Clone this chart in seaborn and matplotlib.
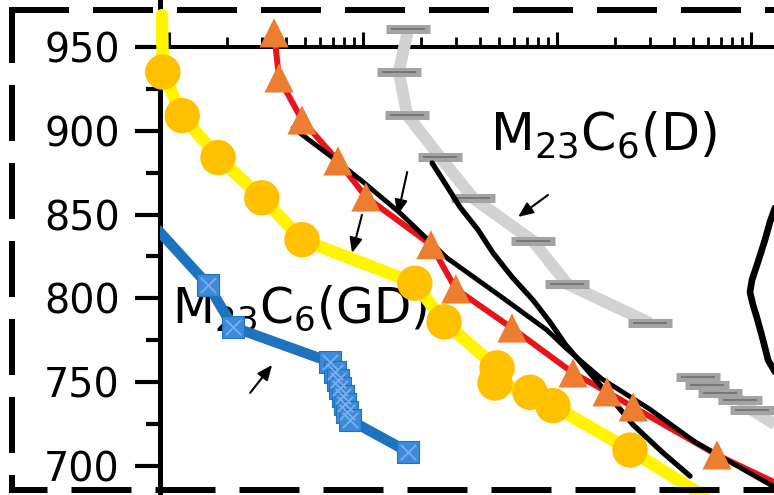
import numpy as np
import matplotlib
matplotlib.use("Agg")
import matplotlib.pyplot as plt
from matplotlib.lines import Line2D
from matplotlib.ticker import LogLocator, FixedLocator, NullFormatter
import seaborn as sns

# ---- data: time (s, log axis) vs temperature (deg C) ----
# yellow curve with orange circles (first/last entries are curve ends without a marker)
circ_time = [0.92, 0.93, 1.17, 1.79, 3.01, 4.85, 18.5, 26.2, 49.1, 47.9, 72.6, 95.3, 238, 580]
circ_temp = [969, 935, 909, 884, 860, 835, 809, 786, 758.5, 749.5, 744, 736, 709.5, 681.5]

# red curve with orange triangles (last entry is the curve end)
tri_time = [3.48, 3.69, 4.85, 7.43, 10.35, 22.4, 30.1, 58.6, 121, 181, 247, 668, 1791]
tri_temp = [958.4, 931.5, 906.4, 882.0, 860.5, 832.0, 805.6, 782.3, 755.5, 744.2, 735.2, 706.6, 683.0]

# grey curve with bar markers, upper branch
grey1_time = [17.1, 15.3, 16.9, 24.9, 36.9, 75.2, 113, 301]
grey1_temp = [960.7, 935.1, 909.4, 884.4, 859.9, 834.2, 808.6, 785.3]
# grey curve, lower branch (last entry is the curve end)
grey2_time = [533, 593, 692, 877, 1012, 1791]
grey2_temp = [753.1, 748.3, 743.6, 739.4, 733.4, 715.5]

# blue curve M23C6 (GD) with square markers (first entry is the curve start)
blue_time = [0.877, 1.59, 2.14, 6.76, 7.18, 7.43, 7.61, 7.89, 8.07, 8.28, 8.57, 17.1]
blue_temp = [840.8, 808.0, 782.9, 762.1, 756.1, 751.3, 746.5, 741.8, 737.0, 732.2, 727.4, 708.4]

# calculated curves (black)
calc_a_time = [4.36, 7.00, 10.0, 15.5, 27.1, 52.7, 88.7, 112, 170, 300, 520, 1250, 1800]
calc_a_temp = [901.7, 883.8, 869.5, 851.0, 824.1, 800.2, 781.1, 770.0, 752.0, 734.0, 714.0, 689.0, 680.0]
calc_b_time = [22.7, 26.8, 31.6, 39.2, 46.8, 58.6, 75.2, 92.0, 111, 167, 247, 348, 485]
calc_b_temp = [880.8, 867.7, 854.5, 840.8, 827.1, 812.8, 799.0, 785.9, 772.2, 748.3, 724.5, 708.4, 694.0]
calc_c_time = [1346, 1253, 1180, 1086, 1012, 988, 1024, 1074, 1153, 1225, 1330]
calc_c_temp = [855.7, 845.6, 834.8, 821.7, 811.0, 803.8, 796.1, 788.3, 775.2, 763.2, 756.1]

y_ticks = [700, 750, 800, 850, 900, 950]
y_minor = [725, 775, 825, 875, 925]

# annotation arrows: (tail time, tail temp, head time, head temp)
arrows = [
    (16.9, 875.4, 15.1, 849.8),
    (9.88, 849.8, 8.78, 827.1),
    (89.9, 861.7, 63.0, 848.6),
    (2.62, 743.6, 3.40, 760.3),
]

# ---- style ----
sns.set_theme(style="white")
plt.rcParams["font.family"] = ["DejaVu Sans"]
plt.rcParams["lines.scale_dashes"] = False
plt.rcParams["mathtext.default"] = "regular"

W, H = 774, 495
fig = plt.figure(figsize=(W / 100, H / 100), dpi=100)
ax = fig.add_axes([160 / W, 0, 614 / W, 1])
ax.set_xscale("log")
ax.set_xlim(10 ** -0.0464, 10 ** 3.1186)
ax.set_ylim(682.7, 978.0)

YELLOW = "#FFF500"
GOLD = "#FFC000"
RED = "#E8141B"
ORANGE = "#ED7D31"
GREY_LINE = "#D2D2D2"
GREY_MARK = "#A3A3A3"
BLUE = "#1E73BE"
BLUE_MARK = "#3D8ADA"

# grey curve
sns.lineplot(x=grey1_time, y=grey1_temp, sort=False, estimator=None, color=GREY_LINE,
             lw=8.6, ax=ax, zorder=3, solid_capstyle="butt")
sns.lineplot(x=grey2_time, y=grey2_temp, sort=False, estimator=None, color=GREY_LINE,
             lw=8.6, ax=ax, zorder=3, solid_capstyle="butt")
for gt, gy in ((grey1_time, grey1_temp), (grey2_time[:-1], grey2_temp[:-1])):
    sns.scatterplot(x=gt, y=gy, marker="_", s=31 ** 2, linewidths=6.5, color=GREY_MARK,
                    ax=ax, zorder=3.2, clip_on=False)
    sns.scatterplot(x=gt, y=gy, marker="_", s=25 ** 2, linewidths=1.1, color="#6A6A6A",
                    ax=ax, zorder=3.3, clip_on=False)

# M23C6 (GD) label sits beneath the curves
ax.text(1.035, 785.3, r"$\mathregular{M_{23}C_{6}(GD)}$", fontsize=35, ha="left",
        va="baseline", color="black", zorder=2.9)

# blue curve
sns.lineplot(x=blue_time, y=blue_temp, sort=False, estimator=None, color=BLUE, lw=7.5,
             ax=ax, zorder=4)
sns.scatterplot(x=blue_time[1:], y=blue_temp[1:], marker="s", s=15.5 ** 2, color=BLUE_MARK,
                edgecolor=BLUE, linewidth=0.8, ax=ax, zorder=4.2)
sns.scatterplot(x=blue_time[1:], y=blue_temp[1:], marker="x", s=11 ** 2, color="#79B0EA",
                linewidth=1.3, ax=ax, zorder=4.3)

# yellow curve with circles
sns.lineplot(x=circ_time, y=circ_temp, sort=False, estimator=None, color=YELLOW, lw=9,
             ax=ax, zorder=5, clip_on=False)
sns.scatterplot(x=circ_time[1:-1], y=circ_temp[1:-1], marker="o", s=25.5 ** 2, color=GOLD,
                edgecolor="none", ax=ax, zorder=5.2, clip_on=False)

# red curve
sns.lineplot(x=tri_time, y=tri_temp, sort=False, estimator=None, color=RED, lw=4.3,
             ax=ax, zorder=6)

# calculated black curves
for ct, cy, lw in ((calc_a_time, calc_a_temp, 3.5), (calc_b_time, calc_b_temp, 3.8),
                   (calc_c_time, calc_c_temp, 4.8)):
    sns.lineplot(x=ct, y=cy, sort=False, estimator=None, color="black", lw=lw, ax=ax,
                 zorder=6.5)

sns.scatterplot(x=tri_time[:-1], y=tri_temp[:-1], marker="^", s=21 ** 2, color=ORANGE,
                edgecolor="none", ax=ax, zorder=7, clip_on=False)

# label for the grey curve
ax.text(45.2, 888.5, r"$\mathregular{M_{23}C_{6}(D)}$", fontsize=36.5, ha="left",
        va="baseline", color="black", zorder=9)

for t0, y0, t1, y1 in arrows:
    ax.annotate("", xy=(t1, y1), xytext=(t0, y0),
                arrowprops=dict(arrowstyle="-|>,head_length=0.75,head_width=0.32",
                                mutation_scale=12, color="black", lw=1.5,
                                shrinkA=0, shrinkB=0),
                zorder=9)

# ---- axes styling ----
for side in ("right", "bottom"):
    ax.spines[side].set_visible(False)
ax.spines["left"].set_linewidth(3.6)
ax.spines["left"].set_color("black")
ax.spines["left"].set_zorder(2.5)
ax.spines["top"].set_position(("data", 950))
ax.spines["top"].set_linewidth(2.9)
ax.spines["top"].set_color("black")

ax.yaxis.set_major_locator(FixedLocator(y_ticks))
ax.yaxis.set_minor_locator(FixedLocator(y_minor))
ax.set_yticklabels([str(v) for v in y_ticks])
ax.tick_params(axis="y", which="major", left=True, length=18, width=3, pad=11,
               labelsize=28.5, direction="out", color="black", labelcolor="black")
ax.tick_params(axis="y", which="minor", left=True, length=10, width=3, direction="out",
               color="black")

ax.xaxis.set_ticks_position("top")
ax.xaxis.set_major_locator(LogLocator(base=10, numticks=12))
ax.xaxis.set_minor_locator(LogLocator(base=10, subs=np.arange(2, 10), numticks=12))
ax.xaxis.set_minor_formatter(NullFormatter())
ax.tick_params(axis="x", which="major", top=True, bottom=False, labeltop=False,
               labelbottom=False, length=11, width=2.2, direction="out", color="black")
ax.tick_params(axis="x", which="minor", top=True, bottom=False, length=7, width=2.0,
               direction="out", color="black")
ax.set_xlabel("")
ax.set_ylabel("")

# ---- dashed frame around the panel ----
px = 0.72  # points per pixel at 100 dpi


def frame_line(x0, y0, x1, y1, on, off, offset):
    ln = Line2D([x0 / W, x1 / W], [1 - y0 / H, 1 - y1 / H], transform=fig.transFigure,
                color="black", lw=6 * px, solid_capstyle="butt", dash_capstyle="butt",
                linestyle=(offset * px, (on * px, off * px)), zorder=20)
    fig.add_artist(ln)


frame_line(8.5, 10, 790, 10, 60, 24, 0)
frame_line(11.5, 7, 11.5, 493, 56, 22, 0)
frame_line(8.5, 490, 790, 490, 60, 24, 21.5)

fig.savefig("out.png", dpi=100)
